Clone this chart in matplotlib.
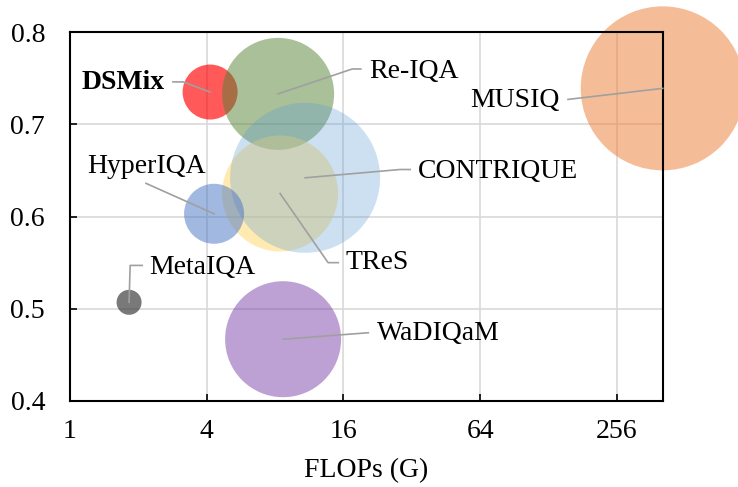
import numpy as np
import matplotlib
matplotlib.use("Agg")
import matplotlib.pyplot as plt

# model data (drawing order = list order)
models = ["DSMix", "Re-IQA", "TReS", "CONTRIQUE", "HyperIQA", "MetaIQA", "WaDIQaM", "MUSIQ"]
flops = [4.14, 8.25, 8.42, 10.85, 4.31, 1.82, 8.68, 408]
score = [0.735, 0.733, 0.625, 0.642, 0.603, 0.507, 0.467, 0.739]
model_size = [27.5, 56, 58, 75, 30, 12.5, 58, 82]   # relative bubble radius
colors = ["#FF0000", "#548235", "#FFD966", "#5B9BD5", "#4472C4", "#404040", "#7030A0", "#ED7D31"]
alphas = [0.65, 0.5, 0.5, 0.3, 0.5, 0.7, 0.45, 0.5]

x_ticks = [1, 4, 16, 64, 256]
y_ticks = [0.4, 0.5, 0.6, 0.7, 0.8]

# label placement: text position, alignment, leader elbow points (data coords)
labels = {
    "DSMix":     dict(xy=(2.62, 0.745), ha="right", path=[(2.84, 0.746), (3.15, 0.746)], bold=True),
    "Re-IQA":    dict(xy=(20.8, 0.757), ha="left", path=[(19.1, 0.760), (17.5, 0.760)]),
    "MUSIQ":     dict(xy=(144, 0.726), ha="right", path=[(156, 0.727)]),
    "CONTRIQUE": dict(xy=(34.1, 0.649), ha="left", path=[(31.5, 0.651), (28.4, 0.651)]),
    "HyperIQA":  dict(xy=(1.19, 0.654), ha="left", path=[(2.16, 0.636)]),
    "TReS":      dict(xy=(16.4, 0.550), ha="left", path=[(15.2, 0.550), (13.7, 0.550)]),
    "MetaIQA":   dict(xy=(2.23, 0.545), ha="left", path=[(2.08, 0.547), (1.84, 0.547)]),
    "WaDIQaM":   dict(xy=(22.5, 0.473), ha="left", path=[(20.6, 0.474)]),
}

plt.rcParams["font.family"] = ["Liberation Serif", "DejaVu Serif"]
dpi = 100
fig = plt.figure(figsize=(7.38, 4.87), dpi=dpi)
ax = fig.add_axes([0.0949, 0.1766, 0.8031, 0.7575])

for i, m in enumerate(models):
    s = (2 * model_size[i] * 72 / dpi) ** 2
    ax.scatter(flops[i], score[i], s=s, color=colors[i], alpha=alphas[i],
               edgecolors="none", clip_on=False, zorder=2 + i * 0.01)

for i, m in enumerate(models):
    lab = labels[m]
    pts = lab["path"] + [(flops[i], score[i])]
    ax.plot([p[0] for p in pts], [p[1] for p in pts], color="#A0A0A0", lw=1.2,
            zorder=3, clip_on=False)
    ax.text(lab["xy"][0], lab["xy"][1], m, ha=lab["ha"], va="center", fontsize=20,
            fontweight="bold" if lab.get("bold") else "normal", zorder=4)

ax.set_xscale("log", base=2)
ax.set_xlim(1, flops[models.index("MUSIQ")])
ax.set_ylim(0.4, 0.8)
ax.set_xticks(x_ticks)
ax.set_xticklabels([str(t) for t in x_ticks])
ax.set_yticks(y_ticks)
ax.set_yticklabels([f"{t:.1f}" for t in y_ticks])
ax.minorticks_off()
ax.tick_params(direction="in", length=5, width=1.2, labelsize=20)
ax.tick_params(axis="y", pad=18)
ax.tick_params(axis="x", pad=13)
ax.grid(True, color="#D9D9D9", lw=1.2)
ax.set_axisbelow(True)
for sp in ax.spines.values():
    sp.set_linewidth(1.5)
ax.set_xlabel("FLOPs (G)", fontsize=20, labelpad=10)

fig.savefig("out.png", dpi=dpi)
